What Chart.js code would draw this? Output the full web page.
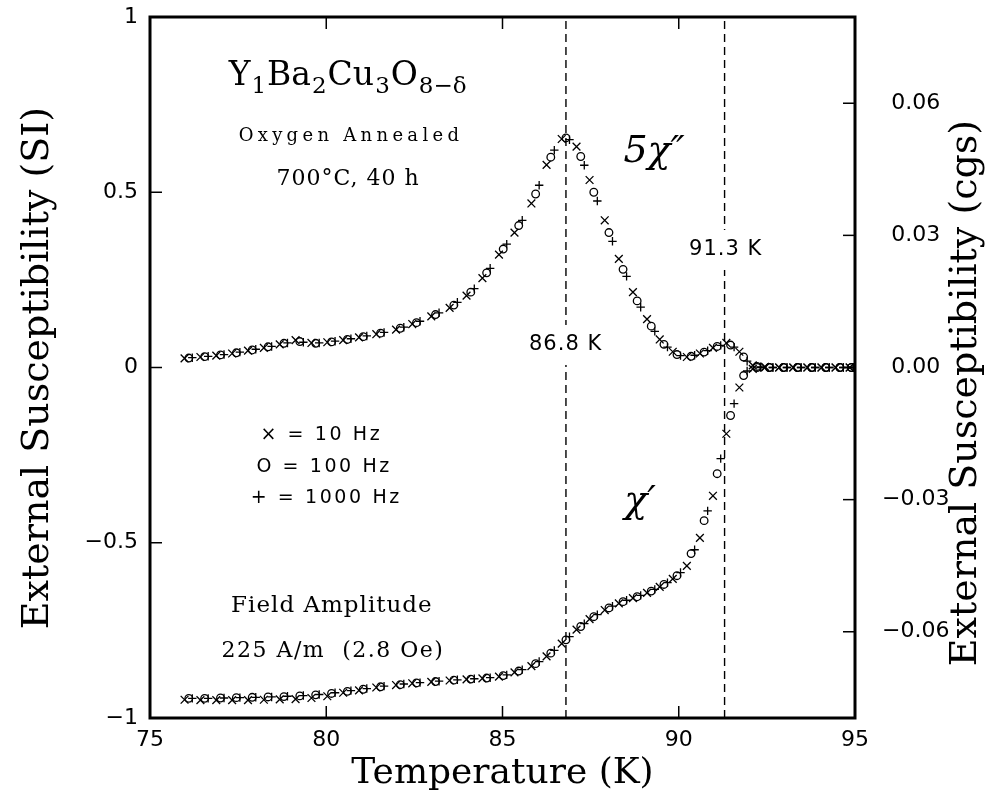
<!DOCTYPE html>
<html>
<head>
<meta charset="utf-8">
<script src="https://cdn.jsdelivr.net/npm/chart.js@4.4.0/dist/chart.umd.min.js"></script>
<style>
  html, body { margin: 0; padding: 0; background: #fff; }
  canvas { display: block; }
</style>
</head>
<body>
<canvas id="susChart" width="997" height="808"></canvas>
<script>
// temperature (K) of each point, one list per frequency
const tempX = [75.98, 76.43, 76.88, 77.33, 77.78, 78.23, 78.68, 79.13, 79.58, 80.03,
  80.48, 80.93, 81.42, 81.98, 82.44, 82.98, 83.5, 83.98, 84.43, 84.9,
  85.34, 85.82, 86.25, 86.68, 87.1, 87.47, 87.9, 88.3, 88.7, 89.1,
  89.46, 89.83, 90.23, 90.6, 90.97, 91.35, 91.72, 92.1, 92.45, 92.85,
  93.25, 93.65, 94.05, 94.45, 94.85];
const tempO = [76.1, 76.55, 77.0, 77.45, 77.9, 78.35, 78.8, 79.25, 79.7, 80.15,
  80.6, 81.05, 81.54, 82.1, 82.56, 83.1, 83.62, 84.1, 84.55, 85.02,
  85.46, 85.94, 86.37, 86.8, 87.22, 87.59, 88.02, 88.42, 88.82, 89.22,
  89.58, 89.95, 90.35, 90.72, 91.09, 91.47, 91.84, 92.22, 92.57, 92.97,
  93.37, 93.77, 94.17, 94.57, 94.9];
const tempP = [76.2, 76.65, 77.1, 77.55, 78.0, 78.45, 78.9, 79.35, 79.8, 80.25,
  80.7, 81.15, 81.64, 82.2, 82.66, 83.2, 83.72, 84.2, 84.65, 85.12,
  85.56, 86.04, 86.47, 86.9, 87.32, 87.69, 88.12, 88.52, 88.92, 89.32,
  89.68, 90.05, 90.45, 90.82, 91.19, 91.57, 91.94, 92.32, 92.67, 93.07,
  93.47, 93.87, 94.27, 94.67, 94.95];

// 5 x chi'' (SI)
const chi2_10 = [0.026, 0.030, 0.034, 0.040, 0.048, 0.056, 0.066, 0.078, 0.070, 0.072,
  0.078, 0.086, 0.095, 0.108, 0.124, 0.146, 0.170, 0.205, 0.255, 0.322,
  0.385, 0.468, 0.578, 0.652, 0.630, 0.535, 0.420, 0.310, 0.215, 0.138,
  0.080, 0.045, 0.030, 0.040, 0.056, 0.070, 0.045, 0.006, 0.002, 0.000,
  0.000, 0.000, 0.000, 0.000, 0.000];
const chi2_100 = [0.027, 0.031, 0.036, 0.042, 0.050, 0.059, 0.069, 0.074, 0.069, 0.073,
  0.080, 0.088, 0.098, 0.112, 0.128, 0.151, 0.178, 0.215, 0.270, 0.338,
  0.405, 0.495, 0.600, 0.655, 0.602, 0.500, 0.385, 0.280, 0.190, 0.118,
  0.066, 0.037, 0.032, 0.044, 0.060, 0.064, 0.030, 0.003, 0.000, 0.000,
  0.000, 0.000, 0.000, 0.000, 0.000];
const chi2_1000 = [0.028, 0.032, 0.037, 0.044, 0.052, 0.060, 0.070, 0.072, 0.070, 0.075,
  0.082, 0.090, 0.100, 0.115, 0.132, 0.156, 0.186, 0.225, 0.283, 0.352,
  0.420, 0.520, 0.620, 0.650, 0.577, 0.475, 0.360, 0.260, 0.172, 0.103,
  0.058, 0.034, 0.035, 0.048, 0.063, 0.058, 0.018, 0.002, 0.000, 0.000,
  0.000, 0.000, 0.000, 0.000, 0.000];

// chi' (SI)
const chi1_10 = [-0.948, -0.949, -0.949, -0.949, -0.949, -0.948, -0.947, -0.946, -0.943, -0.938,
  -0.928, -0.921, -0.913, -0.906, -0.901, -0.897, -0.893, -0.890, -0.887, -0.882,
  -0.870, -0.852, -0.824, -0.788, -0.748, -0.718, -0.692, -0.673, -0.658, -0.643,
  -0.626, -0.603, -0.566, -0.486, -0.366, -0.189, -0.057, -0.004, 0.000, 0.000,
  0.000, 0.000, 0.000, 0.000, 0.000];
const chi1_100 = [-0.944, -0.944, -0.943, -0.942, -0.941, -0.940, -0.939, -0.937, -0.934, -0.930,
  -0.924, -0.918, -0.911, -0.905, -0.900, -0.896, -0.892, -0.889, -0.886, -0.879,
  -0.866, -0.845, -0.815, -0.777, -0.739, -0.711, -0.686, -0.668, -0.654, -0.638,
  -0.619, -0.594, -0.531, -0.437, -0.303, -0.137, -0.023, 0.000, 0.000, 0.000,
  0.000, 0.000, 0.000, 0.000, 0.000];
const chi1_1000 = [-0.944, -0.944, -0.943, -0.942, -0.941, -0.940, -0.938, -0.936, -0.933, -0.928,
  -0.922, -0.916, -0.909, -0.903, -0.899, -0.895, -0.891, -0.888, -0.885, -0.877,
  -0.862, -0.839, -0.807, -0.768, -0.731, -0.705, -0.681, -0.664, -0.650, -0.633,
  -0.614, -0.585, -0.520, -0.409, -0.260, -0.103, -0.010, 0.000, 0.000, 0.000,
  0.000, 0.000, 0.000, 0.000, 0.000];

// transition temperatures (dashed lines)
const onsetTemps = [86.8, 91.3];

// tick values
const tempTicks = [75, 80, 85, 90, 95];
const siTicks = [-1, -0.5, 0, 0.5, 1];
const cgsTicks = [-0.06, -0.03, 0, 0.03, 0.06];

const SI_PER_CGS = 4 * Math.PI;
const MINUS = '\u2212';

function pts(xs, ys) {
  return xs.map((t, i) => ({ x: t, y: ys[i] }));
}

function markers(label, xs, ys, style, r) {
  return {
    label: label,
    data: pts(xs, ys),
    pointStyle: style,
    pointRadius: r,
    pointBorderColor: '#000',
    pointBackgroundColor: 'rgba(0,0,0,0)',
    pointBorderWidth: 1.3,
    showLine: false
  };
}

const datasets = [
  markers("5chi'' 10 Hz", tempX, chi2_10, 'crossRot', 5.5),
  markers("5chi'' 100 Hz", tempO, chi2_100, 'circle', 3.8),
  markers("5chi'' 1000 Hz", tempP, chi2_1000, 'cross', 4.2),
  markers("chi' 10 Hz", tempX, chi1_10, 'crossRot', 5.5),
  markers("chi' 100 Hz", tempO, chi1_100, 'circle', 3.8),
  markers("chi' 1000 Hz", tempP, chi1_1000, 'cross', 4.2)
];
onsetTemps.forEach(t => {
  datasets.push({
    label: t + ' K',
    data: [{ x: t, y: -1 }, { x: t, y: 1 }],
    showLine: true,
    borderColor: '#000',
    borderWidth: 1.4,
    borderDash: [8, 5],
    pointRadius: 0
  });
});

// text placed in data coordinates (temperature, SI value at baseline)
const notes = [
  { text: 'Oxygen Annealed', t: 80.7, v: 0.646, font: '18px "DejaVu Serif"', sp: '4.3px' },
  { text: '700\u00B0C, 40 h', t: 80.62, v: 0.521, font: '22px "DejaVu Serif"', sp: '1px' },
  { text: '\u00D7 = 10 Hz', t: 79.86, v: -0.207, font: '19px "DejaVu Sans"', sp: '2.6px' },
  { text: 'O = 100 Hz', t: 79.94, v: -0.298, font: '19px "DejaVu Sans"', sp: '2.6px' },
  { text: '+ = 1000 Hz', t: 80.0, v: -0.387, font: '19px "DejaVu Sans"', sp: '2.6px' },
  { text: 'Field Amplitude', t: 80.16, v: -0.698, font: '23px "DejaVu Serif"', sp: '1px' },
  { text: '225 A/m  (2.8 Oe)', t: 80.19, v: -0.826, font: '22px "DejaVu Serif"', sp: '1.5px' },
  { text: '91.3 K', t: 91.33, v: 0.321, font: '21px "DejaVu Sans"', sp: '1px', box: true },
  { text: '86.8 K', t: 86.79, v: 0.05, font: '21px "DejaVu Sans"', sp: '1px', box: true },
  { text: '5\u03C7\u2033', t: 89.3, v: 0.586, font: 'italic 38px "DejaVu Serif"', sp: '0px' },
  { text: '\u03C7\u2032', t: 88.9, v: -0.412, font: 'italic 38px "DejaVu Serif"', sp: '0px' }
];

const formula = [['Y', 0], ['1', 1], ['Ba', 0], ['2', 1], ['Cu', 0], ['3', 1], ['O', 0], ['8\u2212\u03B4', 1]];

const decor = {
  id: 'decor',
  afterDatasetsDraw(chart) {
    const { ctx, scales } = chart;
    const sx = scales.x, sy = scales.y;
    ctx.save();
    ctx.fillStyle = '#000';
    ctx.textBaseline = 'alphabetic';

    notes.forEach(n => {
      ctx.font = n.font;
      ctx.letterSpacing = n.sp;
      const w = ctx.measureText(n.text).width;
      const cx = sx.getPixelForValue(n.t);
      const by = sy.getPixelForValue(n.v);
      if (n.box) {
        ctx.fillStyle = '#fff';
        ctx.fillRect(cx - w / 2 - 3, by - 25, w + 6, 40);
        ctx.fillStyle = '#000';
      }
      ctx.textAlign = 'center';
      ctx.fillText(n.text, cx, by);
    });

    // chemical formula with subscripts
    ctx.letterSpacing = '0px';
    ctx.textAlign = 'left';
    const big = '33px "DejaVu Serif"', small = '23px "DejaVu Serif"';
    let total = 0;
    formula.forEach(([s, sub]) => { ctx.font = sub ? small : big; total += ctx.measureText(s).width + 1; });
    let fx = sx.getPixelForValue(80.62) - total / 2;
    const fy = sy.getPixelForValue(0.806);
    formula.forEach(([s, sub]) => {
      ctx.font = sub ? small : big;
      ctx.fillText(s, fx, fy + (sub ? 8 : 0));
      fx += ctx.measureText(s).width + 1;
    });
    ctx.restore();
  },
  afterDraw(chart) {
    const { ctx, chartArea: a, scales } = chart;
    ctx.save();
    ctx.strokeStyle = '#000';
    ctx.lineWidth = 1.5;
    const seg = (x1, y1, x2, y2) => { ctx.beginPath(); ctx.moveTo(x1, y1); ctx.lineTo(x2, y2); ctx.stroke(); };
    const L = 12;
    scales.x.ticks.forEach(t => {
      const p = scales.x.getPixelForValue(t.value);
      if (p < a.left + 2 || p > a.right - 2) return;
      seg(p, a.bottom, p, a.bottom - L);
      seg(p, a.top, p, a.top + L);
    });
    scales.y.ticks.forEach(t => {
      const p = scales.y.getPixelForValue(t.value);
      if (p < a.top + 2 || p > a.bottom - 2) return;
      seg(a.left, p, a.left + L, p);
    });
    scales.y2.ticks.forEach(t => {
      const p = scales.y2.getPixelForValue(t.value);
      if (p < a.top + 2 || p > a.bottom - 2) return;
      seg(a.right, p, a.right - L, p);
    });
    ctx.lineWidth = 3;
    ctx.strokeRect(a.left, a.top, a.right - a.left, a.bottom - a.top);

    // axis titles
    ctx.fillStyle = '#000';
    ctx.textAlign = 'center';
    ctx.textBaseline = 'middle';
    ctx.font = '36px "DejaVu Serif"';
    ctx.fillText('Temperature (K)', (a.left + a.right) / 2, 774);
    ctx.font = '38px "DejaVu Serif"';
    ctx.save();
    ctx.translate(38, 368);
    ctx.rotate(-Math.PI / 2);
    ctx.fillText('External Susceptibility (SI)', 0, 0);
    ctx.restore();
    ctx.save();
    ctx.translate(966, 393);
    ctx.rotate(-Math.PI / 2);
    ctx.fillText('External Susceptibility (cgs)', 0, 0);
    ctx.restore();
    ctx.restore();
  }
};

const tickFont = { family: 'DejaVu Sans', size: 22 };
const noOverhang = s => { s.paddingTop = 0; s.paddingBottom = 0; s.paddingLeft = 0; s.paddingRight = 0; };

new Chart(document.getElementById('susChart').getContext('2d'), {
  type: 'scatter',
  data: { datasets: datasets },
  options: {
    responsive: false,
    animation: false,
    events: [],
    layout: { padding: { top: 17, left: 0, right: 0, bottom: 0 } },
    plugins: { legend: { display: false }, tooltip: { enabled: false } },
    scales: {
      x: {
        type: 'linear', min: 75, max: 95,
        afterBuildTicks: s => { s.ticks = tempTicks.map(v => ({ value: v })); },
        afterFit: s => { s.height = 90; noOverhang(s); },
        grid: { display: false, drawTicks: false },
        border: { display: false },
        ticks: { font: tickFont, color: '#000', padding: 9, maxRotation: 0 }
      },
      y: {
        position: 'left', min: -1, max: 1,
        afterBuildTicks: s => { s.ticks = siTicks.map(v => ({ value: v })); },
        afterFit: s => { s.width = 150; noOverhang(s); },
        grid: { display: false, drawTicks: false },
        border: { display: false },
        ticks: {
          font: tickFont, color: '#000', padding: 12,
          callback: v => (v < 0 ? MINUS : '') + Math.abs(v)
        }
      },
      y2: {
        position: 'right', min: -1 / SI_PER_CGS, max: 1 / SI_PER_CGS,
        afterBuildTicks: s => { s.ticks = cgsTicks.map(v => ({ value: v })); },
        afterFit: s => { s.width = 142; noOverhang(s); },
        grid: { display: false, drawTicks: false },
        border: { display: false },
        ticks: {
          font: tickFont, color: '#000', padding: 27, crossAlign: 'center',
          callback: v => (v < -1e-9 ? MINUS : '') + Math.abs(v).toFixed(2)
        }
      }
    }
  },
  plugins: [decor]
});
</script>
</body>
</html>
